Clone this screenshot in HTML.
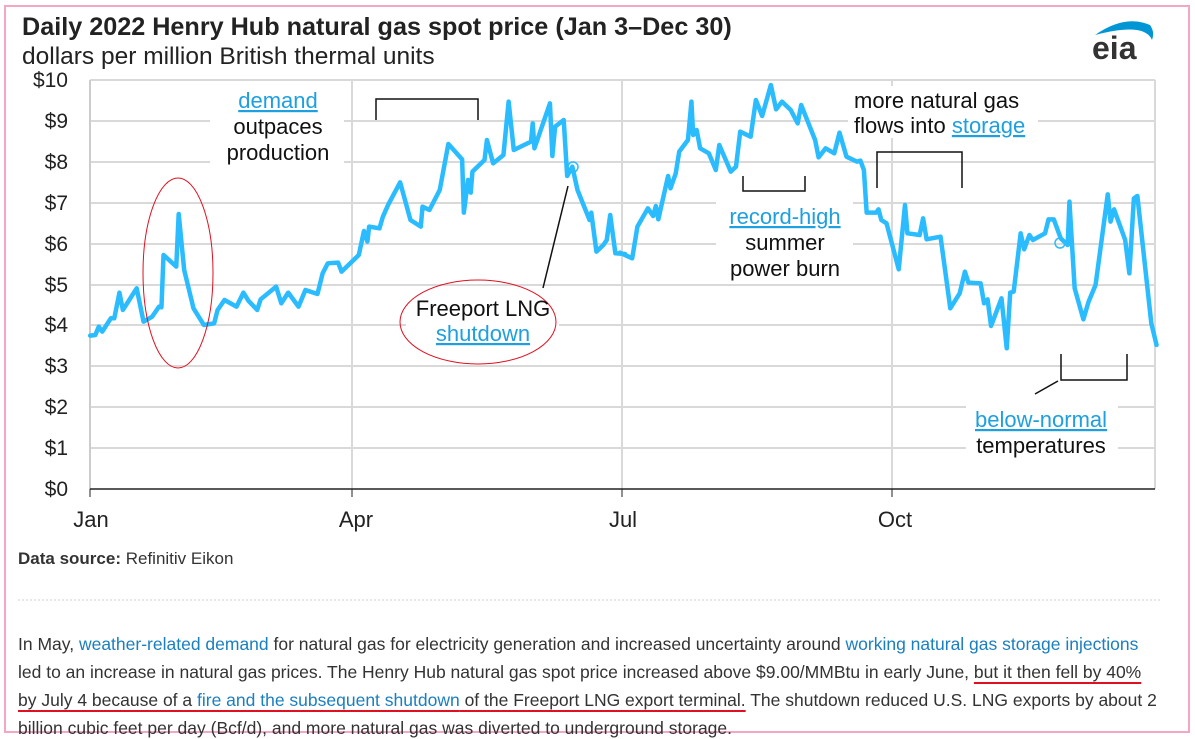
<!DOCTYPE html>
<html><head><meta charset="utf-8"><style>
body{margin:0;background:#fff;width:1195px;height:734px;overflow:hidden;font-family:"Liberation Sans",sans-serif;}
svg{position:absolute;left:0;top:0}
.p{position:absolute;left:18px;font-size:17.5px;color:#333;white-space:nowrap;transform:scaleX(1.0);transform-origin:0 0}
.l{color:#1a7fbf}
.u{text-decoration:underline;text-decoration-color:#e01020;text-decoration-thickness:2px;text-underline-offset:4px}
</style></head><body>
<svg width="1195" height="734" font-family="Liberation Sans, sans-serif">
<rect x="5" y="6" width="1184" height="726" fill="none" stroke="#f4a7c4" stroke-width="2"/>
<text x="22" y="35" font-size="25.2" font-weight="bold" fill="#222">Daily 2022 Henry Hub natural gas spot price (Jan 3–Dec 30)</text>
<text x="22" y="64" font-size="24.5" fill="#222">dollars per million British thermal units</text>
<path d="M1095,35 Q1125,14 1150,25 Q1155,32 1152,40 Q1145,22 1095,35Z" fill="#0096d6"/>
<text x="1092" y="59" font-size="32" font-weight="bold" fill="#333">eia</text>
<g stroke="#d9d9d9" stroke-width="2">
<line x1="90" y1="80" x2="1155" y2="80"/><line x1="90" y1="121" x2="1155" y2="121"/><line x1="90" y1="162" x2="1155" y2="162"/><line x1="90" y1="203" x2="1155" y2="203"/><line x1="90" y1="244" x2="1155" y2="244"/><line x1="90" y1="285" x2="1155" y2="285"/><line x1="90" y1="325" x2="1155" y2="325"/><line x1="90" y1="366" x2="1155" y2="366"/><line x1="90" y1="407" x2="1155" y2="407"/><line x1="90" y1="448" x2="1155" y2="448"/>
<line x1="352" y1="80" x2="352" y2="489"/><line x1="622" y1="80" x2="622" y2="489"/><line x1="892" y1="80" x2="892" y2="489"/><line x1="1155" y1="80" x2="1155" y2="489"/>
</g>
<line x1="90" y1="80" x2="90" y2="489" stroke="#ccc" stroke-width="2"/>
<line x1="90" y1="489" x2="1155" y2="489" stroke="#222" stroke-width="1.5"/>
<g stroke="#222"><line x1="90" y1="489" x2="90" y2="497"/><line x1="352" y1="489" x2="352" y2="497"/><line x1="622" y1="489" x2="622" y2="497"/><line x1="892" y1="489" x2="892" y2="497"/></g>
<g font-size="21" fill="#222" text-anchor="end">
<text x="68" y="87">$10</text><text x="68" y="128">$9</text><text x="68" y="169">$8</text><text x="68" y="210">$7</text><text x="68" y="251">$6</text><text x="68" y="292">$5</text><text x="68" y="332">$4</text><text x="68" y="373">$3</text><text x="68" y="414">$2</text><text x="68" y="455">$1</text><text x="68" y="496">$0</text>
</g>
<g font-size="22" fill="#222" text-anchor="middle"><text x="91" y="527">Jan</text><text x="356" y="527">Apr</text><text x="623" y="527">Jul</text><text x="895" y="527">Oct</text></g>
<rect x="210" y="86" width="134" height="80" fill="#fff"/>
<rect x="406" y="290" width="153" height="56" fill="#fff"/>
<rect x="716" y="202" width="137" height="82" fill="#fff"/>
<rect x="848" y="86" width="190" height="52" fill="#fff"/>
<rect x="966" y="405" width="152" height="56" fill="#fff"/>
<g fill="none" stroke="#2bbcff" stroke-width="4.5" stroke-linejoin="round" stroke-linecap="round">
<polyline vector-effect="non-scaling-stroke" transform="translate(85,70) scale(0.3444,0.3333)" points="15,797 30,795 40,770 50,785 75,745 85,745 100,668 110,720 150,655 170,755 195,740 215,710 222,712 228,555 265,590 272,432 288,600 315,715 345,765 375,760 385,720 405,690 440,710 460,668 475,693 500,720 510,688 555,650 570,700 590,668 620,710 640,660 675,672 690,610 705,580 735,578 745,605 765,585 795,555 810,483 820,515 825,470 855,475 865,440 880,405 915,337 945,450 975,470 980,410 1000,420 1030,360 1055,222 1095,268 1100,428 1112,330 1120,368 1125,305 1160,270 1167,210 1185,280 1215,255 1230,95 1245,240 1295,215 1300,160 1305,235 1350,100 1357,258 1365,170 1390,150 1400,318 1415,290 1430,360 1465,450 1470,428 1485,545 1505,525 1515,510 1525,435 1540,550 1568,552"/>
<polyline vector-effect="non-scaling-stroke" transform="translate(620,70) scale(0.3484,0.3333)" points="0,548 35,565 50,470 80,415 95,438 103,408 110,448 138,318 145,355 160,310 170,245 195,210 205,95 210,195 220,180 230,235 255,250 275,300 285,225 318,305 333,290 345,185 375,200 390,90 408,138 433,45 448,118 465,95 490,120 510,160 520,105 560,210 570,262 590,235 615,250 630,188 650,260 680,275 690,272 700,300 708,428 735,428 742,418 750,450 765,460 800,598 818,405 825,490 860,495 870,445 880,508 920,500 948,715 975,670 990,605 1000,638 1035,640 1045,700 1055,688 1065,768 1095,685 1110,835 1120,668 1130,665 1150,490 1160,538 1175,495 1185,510 1220,490 1230,448 1245,448 1265,505 1285,525 1290,395 1305,655 1330,748 1345,695 1365,645 1400,373 1408,455 1418,418 1450,510 1462,610 1475,385 1485,378 1525,760 1540,825"/>
</g>
<circle cx="573" cy="167" r="5" fill="none" stroke="#2bbcff" stroke-width="1.5"/>
<circle cx="1060" cy="243" r="5" fill="none" stroke="#2bbcff" stroke-width="1.5"/>
<ellipse cx="178" cy="273" rx="35" ry="95" fill="none" stroke="#e01020" stroke-width="1"/>
<ellipse cx="478" cy="322" rx="78" ry="42" fill="none" stroke="#e01020" stroke-width="1"/>
<g fill="none" stroke="#111" stroke-width="1.5">
<path d="M376,120 V99 H478 V120"/>
<path d="M743,176 V191 H805 V176"/>
<path d="M877,188 V152 H962 V188"/>
<path d="M1061,354 V380 H1127 V354"/>
<line x1="543" y1="288" x2="568" y2="186"/>
<line x1="1035" y1="394" x2="1058" y2="381"/>
</g>
<g font-size="22" text-anchor="middle" fill="#111">
<text x="278" y="108" fill="#1ea0e0" text-decoration="underline">demand</text>
<text x="278" y="134">outpaces</text><text x="278" y="160">production</text>
<text x="483" y="316">Freeport LNG</text>
<text x="483" y="341" fill="#1ea0e0" text-decoration="underline">shutdown</text>
<text x="785" y="224" fill="#1ea0e0" text-decoration="underline">record-high</text>
<text x="785" y="250">summer</text><text x="785" y="276">power burn</text>
<text x="1041" y="427" fill="#1ea0e0" text-decoration="underline">below-normal</text>
<text x="1041" y="453">temperatures</text>
</g>
<g font-size="22" fill="#111"><text x="854" y="108">more natural gas</text><text x="854" y="133">flows into <tspan fill="#1ea0e0" text-decoration="underline">storage</tspan></text></g>
<text x="18" y="564" font-size="17" fill="#333"><tspan font-weight="bold">Data source:</tspan> Refinitiv Eikon</text>
<line x1="18" y1="600" x2="1162" y2="600" stroke="#ccc" stroke-dasharray="2,2"/>
</svg>
<div class="p" style="top:634px">In May, <span class="l">weather-related demand</span> for natural gas for electricity generation and increased uncertainty around <span class="l">working natural gas storage injections</span></div>
<div class="p" style="top:662px">led to an increase in natural gas prices. The Henry Hub natural gas spot price increased above $9.00/MMBtu in early June, <span class="u">but it then fell by 40%</span></div>
<div class="p" style="top:690px"><span class="u">by July 4 because of a <span class="l">fire and the subsequent shutdown</span> of the Freeport LNG export terminal.</span> The shutdown reduced U.S. LNG exports by about 2</div>
<div class="p" style="top:718px">billion cubic feet per day (Bcf/d), and more natural gas was diverted to underground storage.</div>
</body></html>
